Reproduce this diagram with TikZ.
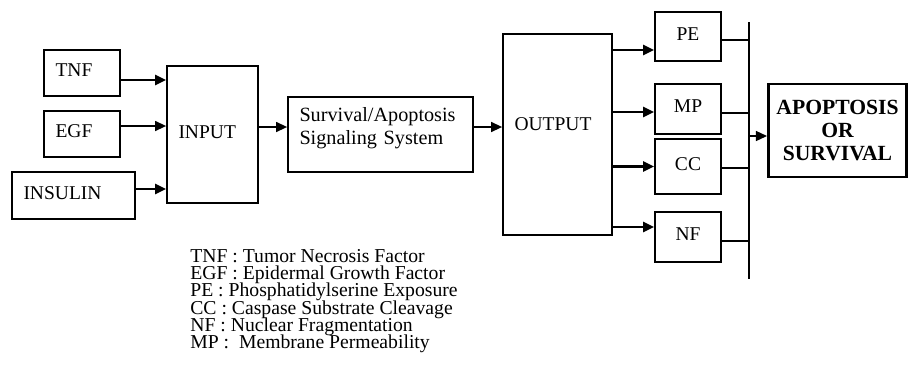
\documentclass[tikz,border=0pt]{standalone}
\usepackage{fontspec}
\setmainfont{Liberation Serif}
\usetikzlibrary{arrows.meta}
\newcommand{\keyfont}{\fontsize{11.2}{9.8}\selectfont\lineskiplimit=-10pt\relax}
\tikzset{
  blk/.style ={draw,line width=1pt,inner xsep=0.23cm,inner ysep=0pt,text depth=3pt,align=left,font=\fontsize{11.1}{13.1}\selectfont},
  sml/.style ={draw,line width=1pt,minimum width=1.32cm,inner sep=0pt,text depth=3pt,font=\fontsize{11.1}{13.1}\selectfont},
  res/.style ={draw,line width=1.7pt,minimum width=2.76cm,minimum height=1.86cm,inner sep=0pt,align=center,font=\bfseries\fontsize{12.3}{13.1}\selectfont},
  key/.style ={inner sep=0pt,align=left,font=\keyfont},
  fat/.style ={-{Triangle[length=6.3pt,width=5.7pt]},line width=1.7pt},
  ar/.style  ={-{Triangle[length=6.3pt,width=5.7pt]},line width=0.85pt},
  tie/.style ={line width=0.85pt},
}
\begin{document}
\begin{tikzpicture}[scale=1]
  \useasboundingbox (0,0) rectangle (18.18,-7.70);
  \node[blk,text width=1.06cm,minimum height=0.92cm] (tnf) at (1.64,-1.46){TNF};
  \node[blk,text width=1.06cm,minimum height=0.92cm] (egf) at (1.64,-2.68){EGF};
  \node[blk,text width=2.00cm,minimum height=0.94cm] (ins) at (1.47,-3.91){INSULIN};
  \node[blk,text width=1.36cm,minimum height=2.74cm] (input) at (4.25,-2.69){INPUT};
  \node[blk,text width=3.24cm,minimum height=1.50cm,text depth=23pt,font=\fontsize{11.5}{13.1}\selectfont] (sas) at (7.61,-2.69){Survival/Apoptosis\\Signaling System};
  \node[blk,text width=1.72cm,minimum height=4.02cm,text depth=11.4pt] (output) at (11.15,-2.69){OUTPUT};
  \node[sml,minimum height=0.98cm] (pe) at (13.76,-0.73){PE};
  \node[sml,minimum height=1.00cm] (mp) at (13.76,-2.18){MP};
  \node[sml,minimum height=1.10cm] (cc) at (13.76,-3.33){CC};
  \node[sml,minimum height=1.00cm] (nf) at (13.76,-4.74){NF};
  \node[res] (aos) at (16.75,-2.61){APOPTOSIS\\OR\\SURVIVAL};
  \coordinate (bartop) at (14.98,-0.44);
  \coordinate (barbot) at (14.98,-5.58);
  \node[key,anchor=north west] (legend) at (3.80,-4.98){TNF : Tumor Necrosis Factor\\
    EGF :\ Epidermal Growth Factor\\
    PE :\ Phosphatidylserine Exposure\\
    CC : Caspase Substrate Cleavage\\
    NF :\ Nuclear Fragmentation\\
    MP :\ \ Membrane Permeability};
  \draw[fat] ([yshift=-0.14cm]tnf.east) -- ([yshift=-0.14cm]tnf.east -| input.west);
  \draw[ar]  ([yshift=0.16cm]egf.east) -- ([yshift=0.16cm]egf.east -| input.west);
  \draw[fat] ([yshift=0.13cm]ins.east) -- ([yshift=0.13cm]ins.east -| input.west);
  \draw[ar]  ([yshift=0.15cm]input.east) -- ([yshift=0.15cm]input.east -| sas.west);
  \draw[ar]  ([yshift=0.15cm]sas.east) -- ([yshift=0.15cm]sas.east -| output.west);
  \draw[fat] ([yshift=-0.27cm]pe.west -| output.east) -- ([yshift=-0.27cm]pe.west);
  \draw[fat] ([yshift=-0.06cm]mp.west -| output.east) -- ([yshift=-0.06cm]mp.west);
  \draw[fat] (cc.west -| output.east) -- (cc.west);
  \draw[fat] ([yshift=0.20cm]nf.west -| output.east) -- ([yshift=0.20cm]nf.west);
  \draw[tie] (bartop) -- (barbot);
  \draw[tie] ([yshift=-0.07cm]pe.east) -- ([yshift=-0.07cm]pe.east -| bartop);
  \draw[tie] ([yshift=-0.08cm]mp.east) -- ([yshift=-0.08cm]mp.east -| bartop);
  \draw[tie] ([yshift=-0.03cm]cc.east) -- ([yshift=-0.03cm]cc.east -| bartop);
  \draw[tie] ([yshift=-0.08cm]nf.east) -- ([yshift=-0.08cm]nf.east -| bartop);
  \draw[ar]  ([yshift=-0.11cm]aos.west -| bartop) -- ([yshift=-0.11cm]aos.west);
\end{tikzpicture}
\end{document}
